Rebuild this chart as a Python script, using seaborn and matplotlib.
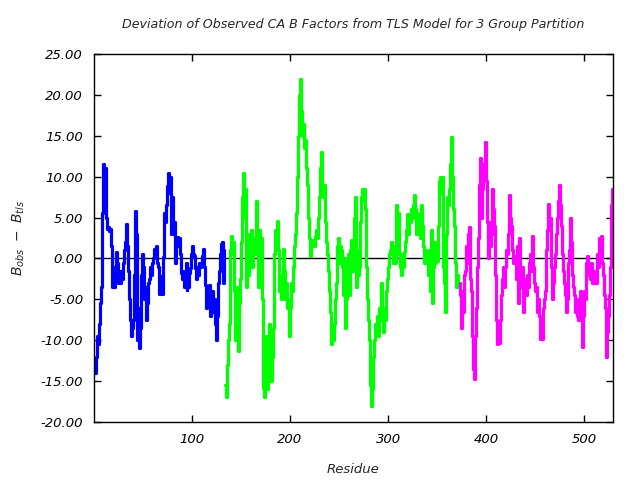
import numpy as np
import matplotlib
matplotlib.use("Agg")
import matplotlib.pyplot as plt
import seaborn as sns
from matplotlib.ticker import FormatStrFormatter

# ---- data ----
blue_start = 1
blue_vals = [
    -13.5, -14, -12, -9.5, -10.5, -8, -5.5, -3.5, 5.5, 11.5,
    9.5, 11, 5, 3.6, 3.8, 3.3, 3.6, 1.5, -3.5, -1,
    -3.5, -1.5, 0.8, -0.5, -3, -1.5, -3, -1.5, -2.5, -0.5,
    1, 2, 4.2, 1.5, -1.5, -5, -7.5, -9.5, -8.5, -7.5,
    -2, 4.5, 5.8, 3, -10, -6, -11, -8.5, -2, 0.5,
    -1, -5, -3.5, -7.5, -5.5, -3, -2.5, -1, -2, -0.5,
    0, 1.2, 0.3, 1.5, -0.5, -1, -4.3, -3, -2.2, -4.3,
    0.2, 5.5, 4.5, 6.5, 8.8, 10.4, 8, 10, 3, 7.5,
    3, 4.5, -0.6, 2.5, 2.6, 1.5, 2.5, 0.5, -1.8, -2.5,
    -1.5, -3.5, -2.5, -0.5, -3.8, -2, -3.5, -1.8, -1.2, 0.5,
    1.5, 0.5, 0.3, -1.2, -2.5, -1, -2, -0.5, -1, -0.6,
    0.3, 1.1, -1, -3.2, -6, -4, -5.5, -3.2, -7, -5,
    -4, -6.5, -5, -8, -10, -7, -3, -1.5, 0.5, 1.8,
    2, -3, 1,
]

green_start = 134
green_vals = [
    -15.5, -17, -13, -10, -8, 1, 2.8,
    0.5, 2, -4, -10, -5, -3.5, -9, -11.3, -5.5, -2.5,
    2, 7.5, 10.5, 5, 8.5, -3.5, 1.5, -2, 3, 0.5,
    3.5, -1, 2.5, 0.5, 1.5, 7, 3, -3.5, 3.5, -1,
    2.5, -5, -15.8, -17, -13, -9.5,
    -16, -12, -8, -9.5,
    -15, -12, -8.5, 0.5, 3.5, 1, 4.6, 1, -4, -2,
    -5, -2.5, 1.2, -1.5, -5, -3, -6, -5, -7, -9.5,
    -6, -3, -4, -1, 1.5, 3, 5.5, 10, 15, 20,
    22, 18, 15, 16.5, 13.5, 14.5, 11, 9, 5, 2.5,
    0.3, 2, 1.5, 2.2, 1.5, 2.8, 3.5, 2.5, 5, 7.5,
    11, 13, 8.5, 7.5, 9, 4.5, 2, 0.5, -1.5, -4,
    -6.5, -10.5, -9, -10, -8, -5, -3, 1.5, 2.5, -0.5,
    1.5, 0, 1, -1, -4.5, 0, -8.5, -5, -1, 0.5,
    -4.5, 1, 2.3, -1.5, -1, 5, 7.5, -3.5, 1, -2,
    -1, 4.5, 7.5, 8.5, 7, 8.5, 6, -1, -5, -7.5,
    -10, -15.5, -18, -16, -12, -10, -8, -9, -7, -9.5,
    -6, -7.5, -3, -6, -9, -6, -7.5, -4, -2.5, -1,
    0.5, 1, 2, 0.5, 1.5, -0.5, 0.8, -0.5, 6.5, 3,
    5.5, 0.5, -1, -2, 0.5, -1, 0.8, 2, 3.5, 5.4,
    3, 5, 4.5, 6, 5, 6.5, 7.8, 6, 3, 5.5,
    3, 4.5, 2.5, 6.5, 4, 1.5, -0.5, 1, -0.5, 0.5,
    -2, 1, -4, 3.5, -5.5, -1, 2, -0.5, 1.5, -0.3,
    4, 9.5, 10, 8, 10, 6, -1, -3, -6.5, 3,
    7.5, 6.5, 8.5, 11.5, 14.8, 10, 6, 4, -0.5, -3.5,
    -2, -3.5,
]

magenta_start = 373
magenta_vals = [
    -3, -4.5, -8.5, -4, -6.5, -2, -1.5, 1.5,
    -0.5, 3, 3.8, -2.5, -4, -9.5, -13.5, -14.8, -9.5, -6,
    -1, 2.5, 9, 12.3, 5, 8.5, 11.5, 10, 14.2, 9.5,
    4.5, 0, 4.5, 1.5, 3, 8.5, 6, 4, 0.5, -2,
    -7.5, -10.5, -9, -10.3, -7.5, -4.5, -2.5, -1, -3.5, -1,
    1, 0.5, 3, 7.8, 5, 4, 1, -0.5, 0.3, -0.5,
    -2.5, 1.5, -5.5, 2.5, -1, -3.5, -1, -6.5, -4, -2.5,
    -4.5, -2, -3.5, -0.5, 0.5, -1.5, 2.8, -1, -3, -4,
    -3.5, -6.5, -5, -7, -9.9, -8, -9.9, -6, -5, -4,
    -1, 1, 3.5, 6.6, 4.5, 5, -1, -5, -3, -1,
    0.5, 3, 5, 7, 9, 6.5, 4, 0.5, -1.5, -3,
    -4.5, -6.5, -5, -0.5, 1, 5, 2, -2, -3.5, -4.5,
    -6.5, -5, -7, -7.5, -6, -4, -7.5, -10.8, -7, -4,
    -5, -0.5, 0.3, -2, -1, -2.5, -0.5, -3, -1.5, -3,
    -2.5, -3, -2, 0.5, -1, 2.5, 1.5, 2.8, -0.5, -2,
    -4.5, -6, -12, -9, -7, -4.5, -1, 6.5, 8.5, 7.8,
]

series = [
    (blue_start, blue_vals, "#0000ff"),
    (green_start, green_vals, "#00ff00"),
    (magenta_start, magenta_vals, "#ff00ff"),
]

title = "Deviation of Observed CA B Factors from TLS Model for 3 Group Partition"
xlabel = "Residue"
ylabel = r"$B_{obs}\ -\ B_{tls}$"
xticks = [100, 200, 300, 400, 500]
yticks = [-20, -15, -10, -5, 0, 5, 10, 15, 20, 25]

# ---- style ----
sns.set_theme(style="white")
plt.rcParams["font.family"] = ["DejaVu Sans"]
plt.rcParams["font.style"] = "italic"
plt.rcParams["mathtext.fontset"] = "dejavusans"
plt.rcParams["axes.unicode_minus"] = False

fig = plt.figure(figsize=(6.4, 4.8), dpi=100)
ax = fig.add_axes([94.3 / 640, 1 - 422 / 480, (612.7 - 94.3) / 640, (422 - 54) / 480])

ax.axhline(0, color="black", linewidth=1.0, zorder=1)
for start, vals, col in series:
    res = np.arange(start, start + len(vals))
    sns.lineplot(x=res, y=vals, ax=ax, color=col, linewidth=2.3,
                 drawstyle="steps-mid", estimator=None, zorder=2)

ax.set_xlim(0.5, 529)
ax.set_ylim(-20, 25)
ax.set_xticks(xticks)
ax.set_yticks(yticks)
ax.yaxis.set_major_formatter(FormatStrFormatter("%.2f"))

for s in ax.spines.values():
    s.set_color("black")
    s.set_linewidth(1.0)

ax.tick_params(direction="in", length=5, width=1, color="black",
               top=True, right=True, bottom=True, left=True,
               labelsize=9.5, labelcolor="black", pad=8)
for lab in ax.get_xticklabels() + ax.get_yticklabels():
    lab.set_fontstyle("italic")

ax.set_title(title, fontsize=9.1, style="italic", pad=19)
ax.set_xlabel(xlabel, fontsize=9.5, style="italic", labelpad=12)
ax.set_ylabel(ylabel, fontsize=10, labelpad=10)

fig.savefig("out.png", dpi=100)
